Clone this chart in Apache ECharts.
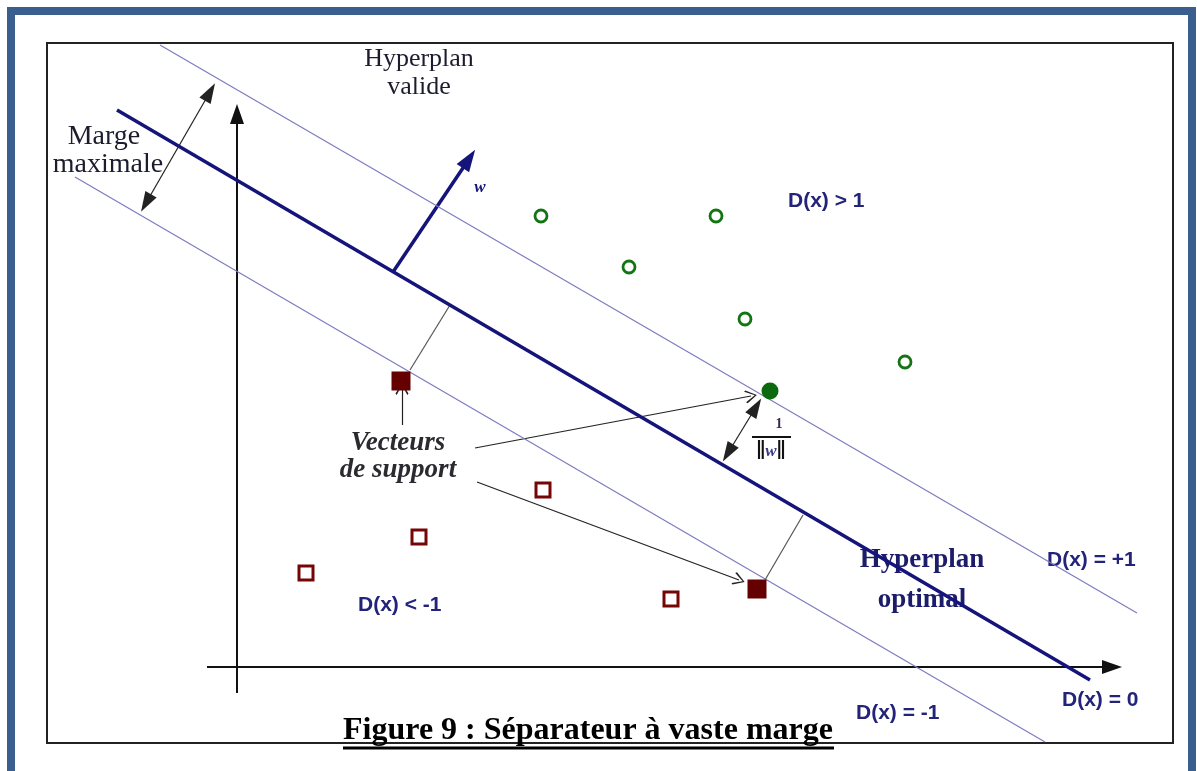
<!DOCTYPE html>
<html>
<head>
<meta charset="utf-8">
<title>Figure 9 : Séparateur à vaste marge</title>
<script src="https://cdn.jsdelivr.net/npm/echarts@6/dist/echarts.min.js"></script>
<style>
  html, body { margin: 0; padding: 0; background: #fff; }
  #main { width: 1197px; height: 771px; }
</style>
</head>
<body>
<div id="main"></div>
<script>
// diagram coordinates: origin where the two axes cross, 1 unit = 100 px
var optimalLine = [[-1.20, 5.57], [8.53, -0.13]];
var upperMargin = [[-0.77, 6.22], [9.00, 0.54]];
var lowerMargin = [[-1.62, 4.90], [8.08, -0.75]];
var xAxisArrow = [[-0.30, 0], [8.75, 0]];
var yAxisArrow = [[0, -0.26], [0, 5.53]];

var classPlus = [[3.04, 4.51], [4.79, 4.51], [3.92, 4.00], [5.08, 3.48], [6.68, 3.05]];
var supportPlus = [[5.33, 2.76]];
var classMinus = [[3.06, 1.77], [1.82, 1.30], [0.69, 0.94], [4.34, 0.68]];
var supportMinus = [[1.64, 2.86], [5.20, 0.78]];

var wVector = [[1.56, 3.95], [2.32, 5.08]];
var margeArrow = [[-0.27, 5.75], [-0.91, 4.64]];
var invNormArrow = [[5.19, 2.60], [4.91, 2.14]];
var projections = [
    [[1.73, 2.97], [2.13, 3.62]],
    [[5.28, 0.87], [5.66, 1.52]]
];
var pointers = [
    [[2.38, 2.19], [5.14, 2.71]],
    [[2.40, 1.85], [5.02, 0.87]],
    [[1.65, 2.42], [1.65, 2.78]]
];

var NAVY = '#14147a';
var TXT = '#23237a';

var chart = echarts.init(document.getElementById('main'));

function segs(list) {
    return list.map(function (c) { return { coords: c }; });
}

var openHead = 'path://M50,0 L100,88 L91,100 L50,18 L9,100 L0,88 Z';

function dLabel(text, x, y) {
    return {
        type: 'text', x: x, y: y,
        style: { text: text, fill: TXT, font: 'bold 21px "Liberation Sans", Arial, sans-serif', textVerticalAlign: 'middle' }
    };
}

function serif(text, x, y, opts) {
    opts = opts || {};
    return {
        type: 'text', x: x, y: y,
        style: {
            text: text,
            fill: opts.fill || '#1c1c2e',
            font: (opts.style || '') + ' ' + (opts.weight || 'normal') + ' ' + (opts.size || 26) + 'px "Liberation Serif", "Times New Roman", serif',
            textAlign: 'center', textVerticalAlign: 'middle'
        }
    };
}

var option = {
    animation: false,
    backgroundColor: '#fff',
    grid: { left: 0, right: 0, top: 0, bottom: 0 },
    xAxis: { type: 'value', min: -2.37, max: 9.60, show: false },
    yAxis: { type: 'value', min: -1.04, max: 6.67, show: false },
    graphic: [
        // outer blue frame and inner black box
        { type: 'rect', shape: { x: 11, y: 11, width: 1181, height: 800 }, style: { fill: 'none', stroke: '#3a5f8f', lineWidth: 8 }, z: -10 },
        { type: 'rect', shape: { x: 47, y: 43, width: 1126, height: 700 }, style: { fill: 'none', stroke: '#222', lineWidth: 2 }, z: -10 },
        serif('Hyperplan', 419, 59),
        serif('valide', 419, 87),
        serif('Marge', 104, 137, { size: 28 }),
        serif('maximale', 108, 165, { size: 28 }),
        serif('w', 480, 188, { style: 'italic', size: 17, fill: NAVY, weight: 'bold' }),
        serif('Vecteurs', 398, 443, { style: 'italic', weight: 'bold', size: 27, fill: '#2a2a30' }),
        serif('de support', 398, 470, { style: 'italic', weight: 'bold', size: 27, fill: '#2a2a30' }),
        serif('1', 779, 424, { size: 14, weight: 'bold', fill: '#3a2a4a' }),
        { type: 'line', shape: { x1: 752, y1: 437, x2: 791, y2: 437 }, style: { stroke: '#111', lineWidth: 2 } },
        {
            type: 'text', x: 771, y: 452,
            style: {
                text: '{b|‖}{i|w}{b|‖}',
                textAlign: 'center', textVerticalAlign: 'middle',
                rich: {
                    b: { font: 'bold 27px "Liberation Serif", serif', fill: '#111' },
                    i: { font: 'italic bold 17px "Liberation Serif", serif', fill: '#3a3a8a' }
                }
            }
        },
        serif('Hyperplan', 922, 560, { weight: 'bold', size: 27, fill: '#1c1c6a' }),
        serif('optimal', 922, 600, { weight: 'bold', size: 27, fill: '#1c1c6a' }),
        dLabel('D(x) > 1', 788, 201),
        dLabel('D(x) = +1', 1047, 560),
        dLabel('D(x) < -1', 358, 605),
        dLabel('D(x) = -1', 856, 713),
        dLabel('D(x) = 0', 1062, 700),
        serif('Figure 9 : Séparateur à vaste marge', 588, 731, { size: 32, weight: 'bold', fill: '#000' }),
        { type: 'line', shape: { x1: 343, y1: 748, x2: 834, y2: 748 }, style: { stroke: '#000', lineWidth: 3 } }
    ],
    series: [
        {
            type: 'line', data: upperMargin, symbol: 'none',
            lineStyle: { color: '#7c7cc0', width: 1.2 }
        },
        {
            type: 'line', data: lowerMargin, symbol: 'none',
            lineStyle: { color: '#7c7cc0', width: 1.2 }
        },
        {
            type: 'line', data: optimalLine, symbol: 'none',
            lineStyle: { color: NAVY, width: 3.5 }
        },
        {
            // the two axes
            type: 'lines', coordinateSystem: 'cartesian2d',
            data: segs([xAxisArrow, yAxisArrow]),
            symbol: ['none', 'triangle'], symbolSize: [[14, 20], [14, 20]],
            lineStyle: { color: '#111', width: 2, opacity: 1 }
        },
        {
            type: 'lines', coordinateSystem: 'cartesian2d',
            data: segs([wVector]),
            symbol: ['none', 'triangle'], symbolSize: [[15, 22], [15, 22]],
            lineStyle: { color: NAVY, width: 3.5, opacity: 1 }
        },
        {
            type: 'lines', coordinateSystem: 'cartesian2d',
            data: segs([margeArrow, invNormArrow]),
            symbol: ['triangle', 'triangle'], symbolSize: [[13, 20], [13, 20]],
            lineStyle: { color: '#222', width: 1.2, opacity: 1 }
        },
        {
            type: 'lines', coordinateSystem: 'cartesian2d',
            data: segs(projections),
            symbol: 'none',
            lineStyle: { color: '#555', width: 1.2, opacity: 1 }
        },
        {
            type: 'lines', coordinateSystem: 'cartesian2d',
            data: segs(pointers),
            symbol: ['none', openHead], symbolSize: [[13, 12], [13, 12]],
            lineStyle: { color: '#222', width: 1.2, opacity: 1 }
        },
        {
            type: 'scatter', data: classPlus, symbol: 'circle', symbolSize: 12,
            itemStyle: { color: '#fff', borderColor: '#137413', borderWidth: 2.8, opacity: 1 }, z: 5
        },
        {
            type: 'scatter', data: supportPlus, symbol: 'circle', symbolSize: 17,
            itemStyle: { color: '#0b6a0e', opacity: 1 }, z: 5
        },
        {
            type: 'scatter', data: classMinus, symbol: 'rect', symbolSize: 14,
            itemStyle: { color: '#fff', borderColor: '#760606', borderWidth: 3, opacity: 1 }, z: 5
        },
        {
            type: 'scatter', data: supportMinus, symbol: 'rect', symbolSize: 19,
            itemStyle: { color: '#640000', opacity: 1 }, z: 5
        }
    ]
};

chart.setOption(option);
</script>
</body>
</html>
